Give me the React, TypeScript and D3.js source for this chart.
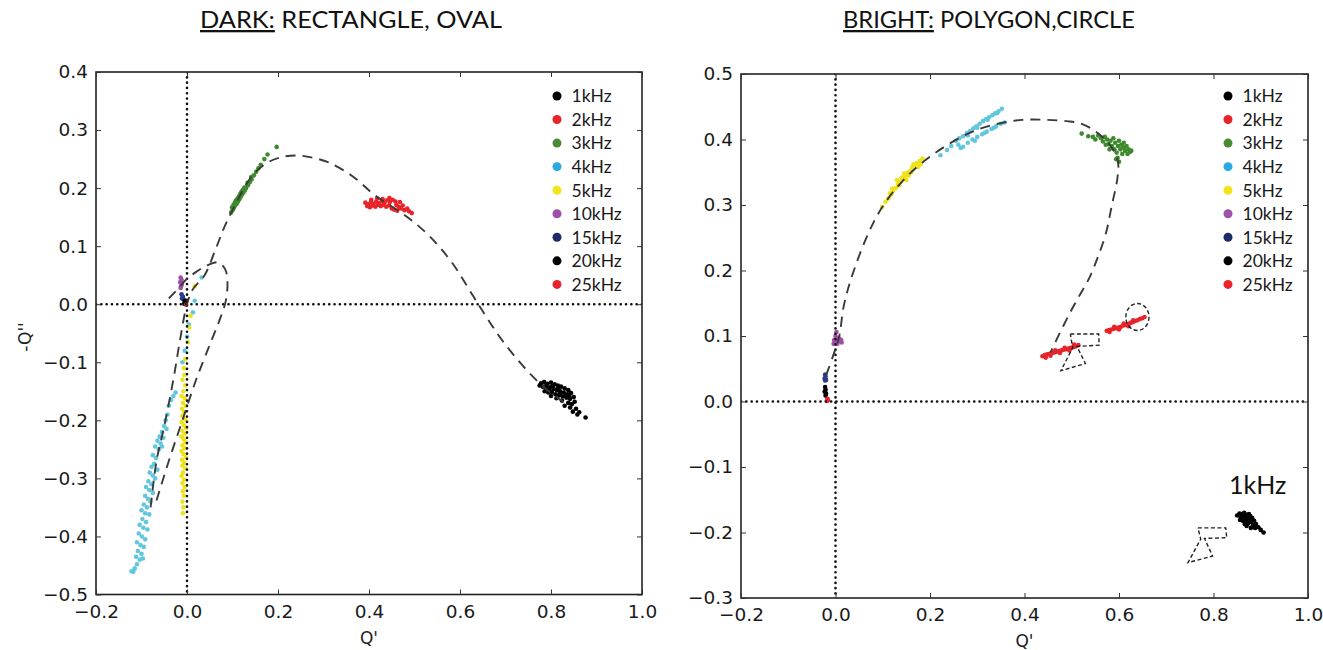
import React, { useRef, useEffect } from "react";
import * as d3 from "d3";

type Pt = [number, number];

// legend entries (same for both panels)
const freqLabels = ["1kHz", "2kHz", "3kHz", "4kHz", "5kHz", "10kHz", "15kHz", "20kHz", "25kHz"];
const legendColors = ["#000000", "#e8232a", "#4a8a34", "#29abe2", "#f2e51c", "#9b52a8", "#1e2b6b", "#000000", "#e8232a"];
const pointColors = ["#000000", "#e8232a", "#3f8a2e", "#62c6de", "#efe21a", "#a04fa8", "#2a3a8c", "#000000", "#e8232a"];

const xTicks = [-0.2, 0, 0.2, 0.4, 0.6, 0.8, 1.0];
const darkYTicks = [-0.5, -0.4, -0.3, -0.2, -0.1, 0, 0.1, 0.2, 0.3, 0.4];
const brightYTicks = [-0.3, -0.2, -0.1, 0, 0.1, 0.2, 0.3, 0.4, 0.5];

// ---------- DARK panel (Q', -Q'') ----------
const dark1k: Pt[] = [
  [0.778, -0.136], [0.785, -0.134], [0.792, -0.137], [0.8, -0.135], [0.808, -0.138], [0.815, -0.14],
  [0.822, -0.142], [0.83, -0.145], [0.838, -0.148], [0.782, -0.142], [0.79, -0.145], [0.798, -0.143],
  [0.806, -0.146], [0.813, -0.148], [0.82, -0.15], [0.828, -0.152], [0.836, -0.155], [0.844, -0.153],
  [0.786, -0.15], [0.794, -0.152], [0.802, -0.151], [0.81, -0.155], [0.818, -0.157], [0.826, -0.159],
  [0.834, -0.161], [0.842, -0.163], [0.85, -0.16], [0.8, -0.158], [0.812, -0.162], [0.824, -0.166],
  [0.838, -0.17], [0.846, -0.172], [0.852, -0.168], [0.83, -0.175], [0.842, -0.178], [0.855, -0.18],
  [0.848, -0.185], [0.862, -0.186], [0.858, -0.19], [0.876, -0.195], [0.816, -0.144], [0.84, -0.158],
  [0.79, -0.139], [0.775, -0.14], [0.796, -0.148], [0.82, -0.154], [0.832, -0.157], [0.804, -0.141],
];
const dark2k: Pt[] = [
  [0.392, 0.175], [0.398, 0.172], [0.404, 0.176], [0.41, 0.173], [0.416, 0.177], [0.422, 0.174],
  [0.428, 0.178], [0.434, 0.175], [0.44, 0.179], [0.446, 0.176], [0.452, 0.18], [0.458, 0.177],
  [0.396, 0.169], [0.402, 0.167], [0.408, 0.17], [0.414, 0.168], [0.42, 0.171], [0.426, 0.169],
  [0.432, 0.171], [0.438, 0.168], [0.444, 0.17], [0.405, 0.18], [0.418, 0.182], [0.43, 0.181],
  [0.445, 0.183], [0.46, 0.171], [0.465, 0.168], [0.47, 0.165], [0.474, 0.17], [0.478, 0.162],
  [0.484, 0.165], [0.488, 0.16], [0.494, 0.157], [0.45, 0.165], [0.455, 0.163], [0.462, 0.161],
  [0.468, 0.176],
];
const dark3k: Pt[] = [
  [0.097, 0.158], [0.1, 0.162], [0.099, 0.167], [0.103, 0.166], [0.102, 0.171], [0.106, 0.17],
  [0.105, 0.175], [0.109, 0.173], [0.108, 0.179], [0.112, 0.177], [0.111, 0.182], [0.115, 0.181],
  [0.114, 0.186], [0.118, 0.185], [0.117, 0.19], [0.121, 0.189], [0.12, 0.194], [0.124, 0.192],
  [0.123, 0.197], [0.127, 0.196], [0.126, 0.201], [0.13, 0.2], [0.134, 0.205], [0.133, 0.209],
  [0.138, 0.21], [0.142, 0.215], [0.141, 0.219], [0.147, 0.222], [0.152, 0.228], [0.157, 0.234],
  [0.162, 0.24], [0.17, 0.25], [0.177, 0.258], [0.197, 0.271],
];
const dark4k: Pt[] = [
  [-0.025, -0.152], [-0.03, -0.158], [-0.035, -0.165], [-0.04, -0.175], [-0.043, -0.19], [-0.047, -0.2],
  [-0.05, -0.21], [-0.045, -0.215], [-0.055, -0.22], [-0.06, -0.228], [-0.052, -0.23], [-0.065, -0.235],
  [-0.058, -0.24], [-0.07, -0.245], [-0.062, -0.25], [-0.055, -0.245], [-0.075, -0.26], [-0.068, -0.265],
  [-0.072, -0.275], [-0.078, -0.28], [-0.065, -0.285], [-0.082, -0.29], [-0.075, -0.295], [-0.07, -0.3],
  [-0.085, -0.305], [-0.078, -0.31], [-0.09, -0.315], [-0.083, -0.32], [-0.075, -0.325], [-0.092, -0.33],
  [-0.086, -0.335], [-0.08, -0.34], [-0.095, -0.345], [-0.088, -0.35], [-0.1, -0.355], [-0.092, -0.36],
  [-0.083, -0.362], [-0.098, -0.37], [-0.09, -0.375], [-0.104, -0.38], [-0.096, -0.385], [-0.087, -0.388],
  [-0.106, -0.395], [-0.099, -0.4], [-0.092, -0.405], [-0.11, -0.41], [-0.102, -0.415], [-0.095, -0.418],
  [-0.108, -0.425], [-0.1, -0.43], [-0.112, -0.435], [-0.104, -0.44], [-0.097, -0.438], [-0.11, -0.448],
  [-0.115, -0.455], [-0.118, -0.461], [-0.122, -0.46],
  [0.032, 0.046], [0.017, 0.006], [0.013, -0.014], [0.0, -0.056], [0.004, -0.035], [-0.005, -0.08], [-0.01, -0.1],
];
const dark5k: Pt[] = [
  [-0.006, -0.122], [-0.01, -0.13], [-0.004, -0.14], [-0.008, -0.15], [-0.012, -0.158], [-0.005, -0.162],
  [-0.009, -0.17], [-0.003, -0.175], [-0.011, -0.18], [-0.006, -0.186], [-0.01, -0.192], [-0.004, -0.198],
  [-0.012, -0.203], [-0.007, -0.208], [-0.002, -0.213], [-0.01, -0.218], [-0.005, -0.223], [-0.012, -0.228],
  [-0.007, -0.233], [-0.003, -0.238], [-0.01, -0.243], [-0.005, -0.248], [-0.012, -0.253], [-0.008, -0.258],
  [-0.003, -0.263], [-0.011, -0.268], [-0.006, -0.273], [-0.01, -0.278], [-0.004, -0.283], [-0.009, -0.29],
  [-0.012, -0.296], [-0.006, -0.302], [-0.01, -0.308], [-0.005, -0.315], [-0.009, -0.322], [-0.007, -0.33],
  [-0.01, -0.34], [-0.008, -0.35], [-0.009, -0.36],
  [0.017, 0.031], [0.008, -0.02], [0.005, -0.04], [0.002, -0.065], [-0.004, -0.095], [-0.007, -0.11],
];
const dark10k: Pt[] = [[-0.014, 0.046], [-0.012, 0.042], [-0.015, 0.038], [-0.011, 0.035], [-0.013, 0.031], [-0.014, 0.028]];
const dark15k: Pt[] = [[-0.012, 0.017], [-0.009, 0.013], [-0.011, 0.01], [-0.007, 0.008]];
const dark20k: Pt[] = [[-0.005, 0.006], [-0.003, 0.003], [-0.006, 0.001]];
const dark25k: Pt[] = [[-0.002, -0.001]];

const darkArc: Pt[] = [
  [-0.08, -0.35], [-0.067, -0.27], [-0.05, -0.21], [-0.03, -0.13], [-0.015, -0.06], [0.0, 0.0],
  [0.013, 0.026], [0.038, 0.049], [0.063, 0.095], [0.08, 0.129], [0.097, 0.157], [0.143, 0.221],
  [0.177, 0.244], [0.211, 0.254], [0.245, 0.256], [0.278, 0.252], [0.312, 0.244], [0.363, 0.221],
  [0.414, 0.187], [0.481, 0.152], [0.532, 0.118], [0.582, 0.072], [0.629, 0.014], [0.65, -0.012],
  [0.7, -0.07], [0.776, -0.137], [0.83, -0.17],
];
const darkLoop: Pt[] = [
  [-0.067, -0.338], [-0.04, -0.27], [-0.01, -0.2], [0.02, -0.13], [0.05, -0.07], [0.075, -0.02],
  [0.085, 0.005], [0.089, 0.037], [0.084, 0.06], [0.068, 0.072], [0.042, 0.066], [0.017, 0.054],
  [-0.005, 0.04], [-0.025, 0.022], [-0.04, 0.01],
];

// ---------- BRIGHT panel ----------
const bright1k: Pt[] = [
  [0.85, -0.174], [0.855, -0.171], [0.86, -0.172], [0.865, -0.17], [0.87, -0.173], [0.875, -0.172],
  [0.858, -0.177], [0.863, -0.176], [0.868, -0.178], [0.873, -0.177], [0.878, -0.175], [0.856, -0.181],
  [0.862, -0.182], [0.867, -0.183], [0.872, -0.181], [0.877, -0.18], [0.882, -0.178], [0.866, -0.187],
  [0.874, -0.186], [0.88, -0.184], [0.886, -0.182], [0.884, -0.189], [0.89, -0.187], [0.888, -0.193],
  [0.895, -0.192], [0.9, -0.196], [0.906, -0.2], [0.87, -0.19], [0.879, -0.193],
];
const bright2k: Pt[] = [
  [0.438, 0.069], [0.443, 0.071], [0.448, 0.072], [0.453, 0.073], [0.458, 0.074], [0.463, 0.075],
  [0.468, 0.076], [0.473, 0.077], [0.478, 0.078], [0.483, 0.079], [0.488, 0.08], [0.493, 0.081],
  [0.498, 0.082], [0.503, 0.083], [0.508, 0.084], [0.514, 0.086], [0.445, 0.067], [0.455, 0.07],
  [0.465, 0.078], [0.475, 0.074], [0.485, 0.082], [0.495, 0.078], [0.505, 0.087],
  [0.574, 0.108], [0.579, 0.109], [0.584, 0.11], [0.589, 0.111], [0.594, 0.112], [0.599, 0.113],
  [0.604, 0.114], [0.609, 0.116], [0.614, 0.117], [0.619, 0.118], [0.624, 0.12], [0.629, 0.121],
  [0.634, 0.123], [0.639, 0.124], [0.644, 0.126], [0.649, 0.127], [0.654, 0.129], [0.58, 0.106],
  [0.59, 0.114], [0.6, 0.11], [0.61, 0.119], [0.62, 0.115], [0.63, 0.124],
];
const bright3k: Pt[] = [
  [0.521, 0.409], [0.535, 0.405], [0.545, 0.404], [0.55, 0.4], [0.556, 0.406], [0.562, 0.402],
  [0.566, 0.397], [0.57, 0.404], [0.575, 0.4], [0.578, 0.393], [0.582, 0.398], [0.585, 0.39],
  [0.588, 0.402], [0.59, 0.385], [0.592, 0.395], [0.595, 0.38], [0.597, 0.372], [0.598, 0.39],
  [0.6, 0.398], [0.603, 0.385], [0.605, 0.392], [0.607, 0.378], [0.61, 0.388], [0.613, 0.383],
  [0.616, 0.39], [0.62, 0.385], [0.623, 0.381], [0.626, 0.383], [0.6, 0.366], [0.594, 0.37],
  [0.58, 0.385], [0.572, 0.392], [0.61, 0.395], [0.618, 0.378],
];
const bright4k: Pt[] = [
  [0.255, 0.398], [0.262, 0.402], [0.27, 0.405], [0.278, 0.41], [0.285, 0.413], [0.292, 0.417],
  [0.298, 0.42], [0.305, 0.424], [0.312, 0.428], [0.318, 0.431], [0.325, 0.434], [0.332, 0.437],
  [0.338, 0.44], [0.345, 0.443], [0.352, 0.447], [0.28, 0.406], [0.3, 0.418], [0.322, 0.43], [0.342, 0.44],
  [0.27, 0.389], [0.28, 0.395], [0.29, 0.4], [0.3, 0.404], [0.31, 0.408], [0.32, 0.412], [0.33, 0.416],
  [0.34, 0.42], [0.35, 0.424], [0.358, 0.426], [0.295, 0.398], [0.315, 0.41], [0.335, 0.418],
  [0.222, 0.376], [0.236, 0.384], [0.245, 0.39], [0.26, 0.392], [0.265, 0.387],
];
const bright5k: Pt[] = [
  [0.099, 0.297], [0.106, 0.305], [0.112, 0.31], [0.118, 0.316], [0.122, 0.322], [0.128, 0.326],
  [0.132, 0.332], [0.138, 0.336], [0.142, 0.34], [0.148, 0.344], [0.152, 0.349], [0.158, 0.352],
  [0.162, 0.357], [0.168, 0.36], [0.172, 0.364], [0.178, 0.367], [0.184, 0.371], [0.12, 0.325],
  [0.135, 0.33], [0.145, 0.348], [0.155, 0.345], [0.165, 0.362], [0.175, 0.358], [0.115, 0.318],
  [0.13, 0.338], [0.16, 0.35], [0.18, 0.362], [0.14, 0.342], [0.15, 0.338],
];
const bright10k: Pt[] = [
  [0.002, 0.106], [0.0, 0.1], [0.004, 0.097], [-0.003, 0.094], [0.006, 0.093], [0.01, 0.092],
  [0.013, 0.09], [0.002, 0.09], [-0.004, 0.088], [0.008, 0.096], [0.012, 0.094], [0.004, 0.088],
];
const bright15k: Pt[] = [[-0.022, 0.041], [-0.021, 0.038], [-0.023, 0.035], [-0.02, 0.033], [-0.022, 0.032]];
const bright20k: Pt[] = [[-0.022, 0.022], [-0.021, 0.018], [-0.023, 0.015], [-0.02, 0.012], [-0.021, 0.009]];
const bright25k: Pt[] = [[-0.017, 0.004], [-0.016, 0.002], [-0.018, 0.001]];

const brightArc: Pt[] = [
  [-0.02, 0.04], [-0.005, 0.07], [0.008, 0.1], [0.017, 0.144], [0.032, 0.185], [0.066, 0.251],
  [0.099, 0.297], [0.14, 0.335], [0.184, 0.365], [0.251, 0.398], [0.3, 0.415], [0.344, 0.424],
  [0.395, 0.43], [0.445, 0.43], [0.49, 0.428], [0.521, 0.424], [0.555, 0.41], [0.58, 0.392],
  [0.597, 0.37], [0.597, 0.343], [0.585, 0.3], [0.572, 0.256], [0.555, 0.22], [0.538, 0.19],
  [0.515, 0.16], [0.496, 0.135], [0.475, 0.105], [0.455, 0.075],
];
const brightPolyA: Pt[] = [
  [0.497, 0.103], [0.557, 0.103], [0.558, 0.086], [0.511, 0.084], [0.529, 0.058], [0.477, 0.047], [0.502, 0.082], [0.497, 0.103],
];
const brightPolyB: Pt[] = [
  [0.767, -0.193], [0.826, -0.193], [0.828, -0.208], [0.781, -0.209], [0.798, -0.236], [0.746, -0.246], [0.773, -0.21], [0.767, -0.193],
];
const brightCircle = { x: 0.639, y: 0.129, rx: 0.0245, ry: 0.0206 };

const darkSeries = [dark1k, dark2k, dark3k, dark4k, dark5k, dark10k, dark15k, dark20k, dark25k];
const brightSeries = [bright1k, bright2k, bright3k, bright4k, bright5k, bright10k, bright15k, bright20k, bright25k];

const tickFont = "'DejaVu Sans', sans-serif";

const Panel = (props: any) => {
  const { id, box, yDomain, yTicks, series, curves, polys, ellipse, legendX, yLabel, xLabelY } = props;
  const axisRef = useRef<SVGGElement>(null);

  const x = d3.scaleLinear().domain([-0.2, 1.0]).range([box.left, box.right]);
  const y = d3.scaleLinear().domain(yDomain).range([box.bottom, box.top]);
  const smooth = d3.line<Pt>().x((d) => x(d[0])).y((d) => y(d[1])).curve(d3.curveCatmullRom.alpha(0.5));
  const straight = d3.line<Pt>().x((d) => x(d[0])).y((d) => y(d[1]));

  useEffect(() => {
    const g = d3.select(axisRef.current);
    g.selectAll("*").remove();
    const fmt = d3.format(".1f");
    g.append("g")
      .attr("transform", `translate(0,${box.bottom})`)
      .call(d3.axisBottom(x).tickValues(xTicks).tickFormat(fmt as any).tickSize(-5).tickSizeOuter(0).tickPadding(10));
    g.append("g")
      .attr("transform", `translate(${box.left},0)`)
      .call(d3.axisLeft(y).tickValues(yTicks).tickFormat(fmt as any).tickSize(-5).tickSizeOuter(0).tickPadding(8));
    g.append("g")
      .attr("transform", `translate(0,${box.top})`)
      .call(d3.axisTop(x).tickValues(xTicks).tickFormat(() => "").tickSize(-5).tickSizeOuter(0));
    g.append("g")
      .attr("transform", `translate(${box.right},0)`)
      .call(d3.axisRight(y).tickValues(yTicks).tickFormat(() => "").tickSize(-5).tickSizeOuter(0));
    g.selectAll(".domain").remove();
    g.selectAll(".tick line").attr("stroke", "#333").attr("stroke-width", 1);
    g.selectAll("g").attr("font-family", tickFont).attr("font-size", 18.5);
    g.selectAll(".tick text").attr("fill", "#1a1a1a");
  }, []);

  return (
    <g>
      <defs>
        <clipPath id={id}>
          <rect x={box.left} y={box.top} width={box.right - box.left} height={box.bottom - box.top} />
        </clipPath>
      </defs>
      <g clipPath={`url(#${id})`}>
        {series.map((pts: Pt[], i: number) =>
          pts.map((p, j) => <circle key={`${i}-${j}`} cx={x(p[0])} cy={y(p[1])} r={2.3} fill={pointColors[i]} />)
        )}
        <line x1={x(0)} x2={x(0)} y1={box.top} y2={box.bottom} stroke="#111" strokeWidth={2.6}
          strokeDasharray="0.1 5.2" strokeLinecap="round" />
        <line x1={box.left} x2={box.right} y1={y(0)} y2={y(0)} stroke="#111" strokeWidth={2.6}
          strokeDasharray="0.1 5.2" strokeLinecap="round" />
        {curves.map((c: Pt[], i: number) => (
          <path key={i} d={smooth(c) || ""} fill="none" stroke="#3a3a3a" strokeWidth={1.9} strokeDasharray="10 7" />
        ))}
        {polys.map((c: Pt[], i: number) => (
          <path key={i} d={straight(c) || ""} fill="none" stroke="#222" strokeWidth={1.4} strokeDasharray="4 2.5" />
        ))}
        {ellipse && (
          <ellipse cx={x(ellipse.x)} cy={y(ellipse.y)} rx={x(ellipse.x + ellipse.rx) - x(ellipse.x)}
            ry={y(ellipse.y - ellipse.ry) - y(ellipse.y)} fill="none" stroke="#222" strokeWidth={1.4} strokeDasharray="4 2.5" />
        )}
      </g>
      {freqLabels.map((lab, i) => (
        <g key={lab} transform={`translate(${legendX},${96 + i * 23.55})`}>
          <circle cx={0} cy={0} r={4.5} fill={legendColors[i]} />
          <text x={14.5} y={0} dy="0.36em" fontFamily="Lato, sans-serif" fontSize={17.5} fill="#1a1a1a">{lab}</text>
        </g>
      ))}
      <rect x={box.left} y={box.top} width={box.right - box.left} height={box.bottom - box.top}
        fill="none" stroke="#222" strokeWidth={1.6} />
      <g ref={axisRef} />
      <text x={(box.left + box.right) / 2} y={xLabelY} textAnchor="middle" fontFamily={tickFont} fontSize={17} fill="#222">Q'</text>
      {yLabel && (
        <text transform="translate(25,337) rotate(-90)" textAnchor="middle" dy="0.35em"
          fontFamily={tickFont} fontSize={17} fill="#222">{yLabel}</text>
      )}
    </g>
  );
};

export default function App() {
  return (
    <div style={{ position: "absolute", left: 0, top: 0 }}>
      <svg width={1323} height={650} style={{ display: "block", background: "#fff" }}>
        <text x={200} y={28} fontFamily="Lato, sans-serif" fontSize={23} fill="#111" textLength={302} lengthAdjust="spacingAndGlyphs">
          <tspan textDecoration="underline">DARK:</tspan> RECTANGLE,  OVAL
        </text>
        <text x={843} y={28} fontFamily="Lato, sans-serif" fontSize={23} fill="#111" textLength={292} lengthAdjust="spacingAndGlyphs">
          <tspan textDecoration="underline">BRIGHT:</tspan> POLYGON,CIRCLE
        </text>
        <Panel id="darkClip" box={{ left: 96, right: 642, top: 72, bottom: 594.5 }} yDomain={[-0.5, 0.4]}
          yTicks={darkYTicks} series={darkSeries} curves={[darkArc, darkLoop]} polys={[]} ellipse={null}
          legendX={557} yLabel="-Q''" xLabelY={644} />
        <Panel id="brightClip" box={{ left: 741, right: 1308, top: 74, bottom: 598 }} yDomain={[-0.3, 0.5]}
          yTicks={brightYTicks} series={brightSeries} curves={[brightArc]} polys={[brightPolyA, brightPolyB]}
          ellipse={brightCircle} legendX={1228} yLabel={null} xLabelY={647} />
        <text x={1229} y={494} fontFamily="Lato, sans-serif" fontSize={25} fill="#111">1kHz</text>
      </svg>
    </div>
  );
}
